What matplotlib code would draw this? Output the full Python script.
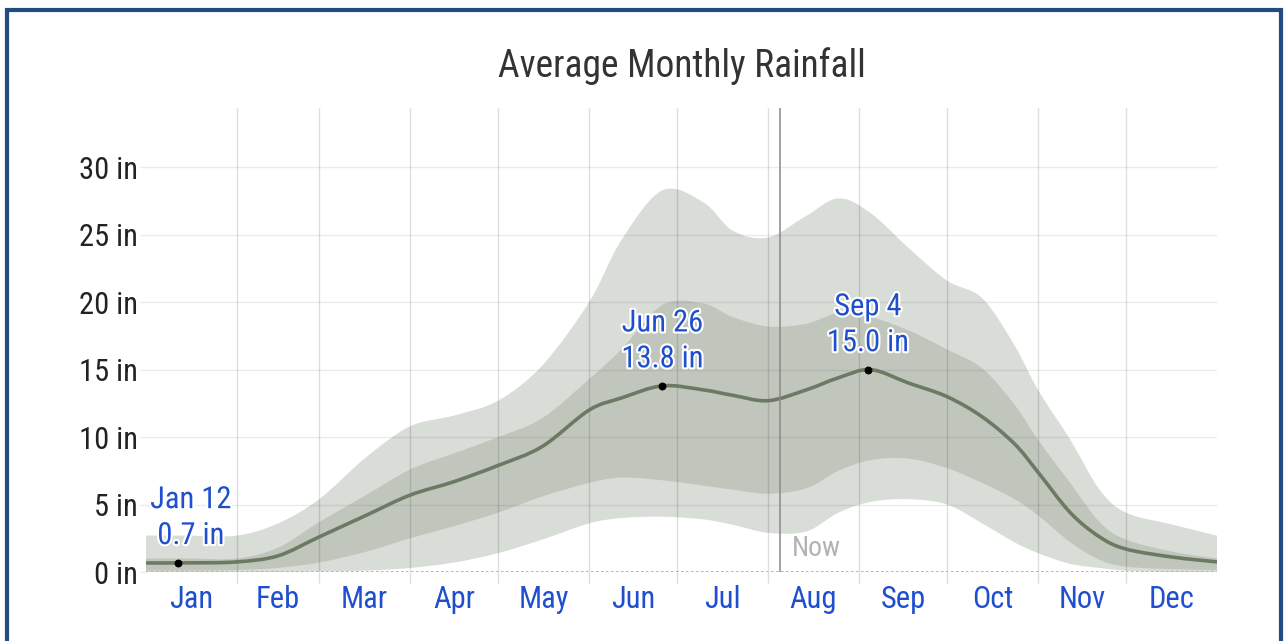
import matplotlib.pyplot as plt
import matplotlib.patheffects as pe
from matplotlib.patches import Rectangle, PathPatch
from matplotlib.path import Path
import numpy as np

plt.rcParams['font.family'] = ['Roboto Condensed', 'Liberation Sans Narrow', 'Roboto', 'DejaVu Sans']
plt.rcParams['font.stretch'] = 'condensed'

# day of year for each sample
days = [0, 15, 31, 45, 59, 75, 90, 105, 120, 135, 151, 162, 176, 190, 200,
        212, 225, 236, 247, 260, 273, 285, 296, 304, 315, 325, 334, 350, 365]
# median rainfall (in)
median = [0.67, 0.68, 0.75, 1.2, 2.6, 4.2, 5.7, 6.7, 7.9, 9.3, 12.0, 12.9, 13.8, 13.5, 13.1,
          12.7, 13.5, 14.4, 15.0, 14.0, 13.0, 11.5, 9.5, 7.4, 4.4, 2.6, 1.7, 1.1, 0.75]
# 25th / 75th percentile band
p25 = [0.1, 0.1, 0.15, 0.3, 0.7, 1.5, 2.5, 3.4, 4.4, 5.6, 6.6, 7.0, 6.8, 6.4, 6.1,
       5.8, 6.2, 7.5, 8.3, 8.4, 7.7, 6.6, 5.4, 4.2, 2.2, 0.9, 0.4, 0.2, 0.15]
p75 = [1.0, 1.0, 1.0, 1.8, 3.7, 5.7, 7.6, 8.8, 10.0, 11.4, 14.3, 16.5, 19.8, 19.9, 18.9,
       18.2, 18.4, 19.2, 18.9, 17.9, 16.5, 15.1, 12.4, 9.8, 6.6, 3.7, 2.4, 1.5, 1.0]
# 10th / 90th percentile band
p10 = [0, 0, 0, 0, 0.05, 0.1, 0.3, 0.7, 1.4, 2.4, 3.6, 4.0, 4.1, 3.9, 3.5,
       2.9, 3.0, 4.4, 5.2, 5.4, 5.0, 3.6, 2.2, 1.4, 0.6, 0.3, 0.1, 0, 0]
p90 = [2.7, 2.7, 2.7, 3.6, 5.4, 8.5, 10.8, 11.6, 12.7, 15.3, 20.0, 24.6, 28.3, 27.4, 25.3,
       24.8, 26.4, 27.7, 26.6, 24.0, 21.6, 20.3, 16.8, 13.5, 9.8, 6.1, 4.4, 3.5, 2.7]

months = ['Jan', 'Feb', 'Mar', 'Apr', 'May', 'Jun', 'Jul', 'Aug', 'Sep', 'Oct', 'Nov', 'Dec']
month_start = [0, 31, 59, 90, 120, 151, 181, 212, 243, 273, 304, 334, 365]

hl_days = [11, 176, 246]
hl_values = [0.7, 13.8, 15.0]
hl_labels = ['Jan 12\n0.7 in', 'Jun 26\n13.8 in', 'Sep 4\n15.0 in']

now_day = 216
yticks = [0, 5, 10, 15, 20, 25, 30]

blue = '#1f4fcf'


def bezier_verts(x, y):
    # catmull-rom style control points so the curve runs smooth through the samples
    x = np.asarray(x, float)
    y = np.asarray(y, float)
    n = len(x)
    verts = []
    for i in range(n - 1):
        i0, i3 = max(i - 1, 0), min(i + 2, n - 1)
        c1 = (x[i] + (x[i + 1] - x[i0]) / 6, y[i] + (y[i + 1] - y[i0]) / 6)
        c2 = (x[i + 1] - (x[i3] - x[i]) / 6, y[i + 1] - (y[i3] - y[i]) / 6)
        verts += [c1, c2, (x[i + 1], y[i + 1])]
    return verts


def smooth_line(x, y):
    verts = [(x[0], y[0])] + bezier_verts(x, y)
    codes = [Path.MOVETO] + [Path.CURVE4] * (len(verts) - 1)
    return Path(verts, codes)


def smooth_band(x, lo, hi):
    up = [(x[0], hi[0])] + bezier_verts(x, hi)
    down = [(x[-1], lo[-1])] + bezier_verts(x[::-1], lo[::-1])
    verts = up + down + [up[0]]
    codes = ([Path.MOVETO] + [Path.CURVE4] * (len(up) - 1) +
             [Path.LINETO] + [Path.CURVE4] * (len(down) - 1) + [Path.CLOSEPOLY])
    return Path(verts, codes)


fig = plt.figure(figsize=(12.87, 6.41), dpi=100)
ax = fig.add_axes([146 / 1287, 69 / 641, 1071 / 1287, 464 / 641])

ax.add_patch(PathPatch(smooth_band(days, p10, p90), fc='#d9ddd7', lw=0, zorder=1))
ax.add_patch(PathPatch(smooth_band(days, p25, p75), fc='#c1c6bd', lw=0, zorder=1.1))
ax.add_patch(PathPatch(smooth_line(days, median), fc='none', ec='#6b7a62', lw=2.6, zorder=3))
ax.scatter(hl_days, hl_values, s=22, color='black', zorder=4)

# gridlines drawn over the bands
ax.set_axisbelow(False)
month_mid = [(a + b) / 2 for a, b in zip(month_start[:-1], month_start[1:])]
ax.set_xticks(month_mid, months)
ax.set_xticks(month_start[1:-1], minor=True)
ax.grid(which='minor', axis='x', color='black', alpha=0.13, lw=1)
ax.grid(which='major', axis='x', visible=False)
ax.set_yticks(yticks, [f'{v} in' for v in yticks])
ax.grid(which='major', axis='y', color='black', alpha=0.08, lw=1)
ax.axhline(0, color='#aaaaaa', lw=1.2, ls=(0, (1.5, 1.5)), zorder=3)

ax.set_xlim(0, 365)
ax.set_ylim(0, 34.4)
for s in ax.spines.values():
    s.set_visible(False)

ax.tick_params(axis='x', which='major', length=0, pad=9, labelsize=22, labelcolor=blue)
ax.tick_params(axis='x', which='minor', length=8, width=1, color='#dddddd')
ax.tick_params(axis='y', length=4, width=1, color='#ececec', pad=2, labelsize=22, labelcolor='#222222')

# now marker
ax.axvline(now_day, color='#8a8a8a', lw=1.4, alpha=0.8, zorder=3)
ax.text(now_day + 4, 1.75, 'Now', color='#b3b3b3', fontsize=20, ha='left', va='center')

halo = [pe.withStroke(linewidth=3, foreground='white')]
offsets = [(9, 9), (0, 9), (0, 9)]
for d, v, lab, off in zip(hl_days, hl_values, hl_labels, offsets):
    ax.annotate(lab, (d, v), xytext=off, textcoords='offset points', ha='center', va='bottom',
                color=blue, fontsize=22, linespacing=1.3, path_effects=halo, zorder=5)

fig.text(682 / 1287, 1 - 66 / 641, 'Average Monthly Rainfall', ha='center', va='center',
         fontsize=27, color='#333333')

# blue frame around the card
fig.add_artist(Rectangle((6.5 / 1287, -0.05), (1281 - 6.5) / 1287, 1.05 - 10 / 641,
                         transform=fig.transFigure, fill=False, ec='#244b80', lw=3, clip_on=False))

fig.savefig('out.png', dpi=100)
